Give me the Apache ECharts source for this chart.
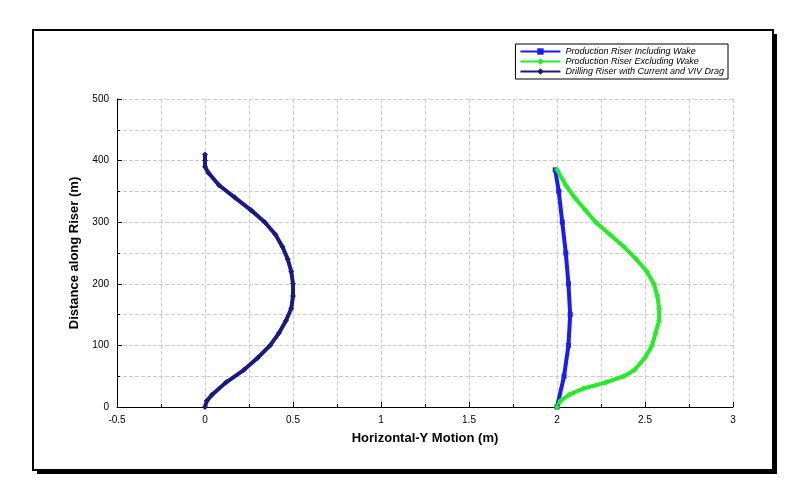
<!DOCTYPE html><html><head><meta charset="utf-8"><script src="https://cdn.jsdelivr.net/npm/echarts@6/dist/echarts.min.js"></script></head>
<body style="margin:0;background:#fff"><div id="c" style="width:788px;height:502px"></div><script>
const drillY=[0,10,20,40,60,80,100,120,140,160,180,200,220,240,260,280,300,320,340,360,380,390,400,410];
const drillX=[0,0.01,0.04,0.12,0.22,0.30,0.37,0.42,0.46,0.49,0.50,0.50,0.49,0.47,0.44,0.40,0.34,0.26,0.17,0.08,0.02,0,0,0];
const inclY=[0,50,100,150,200,250,300,350,385];
const inclX=[2.0,2.04,2.065,2.075,2.065,2.05,2.03,2.01,1.99];
const exclY=[0,10,20,30,40,50,60,80,100,120,140,160,180,200,220,240,260,280,300,320,340,360,385];
const exclX=[2.0,2.02,2.07,2.15,2.28,2.38,2.44,2.50,2.54,2.56,2.58,2.58,2.57,2.55,2.51,2.45,2.38,2.30,2.22,2.16,2.10,2.05,2.0];
const z=(xs,ys)=>xs.map((x,i)=>[x,ys[i]]);
const ch=echarts.init(document.getElementById('c'));
const ax={axisLine:{show:true,onZero:false,lineStyle:{color:'#000'}},axisTick:{inside:true,lineStyle:{color:'#000'}},
 minorTick:{show:true,splitNumber:2,length:3,lineStyle:{color:'#000'}},
 splitLine:{lineStyle:{color:'#ccc',type:'dashed'}},minorSplitLine:{show:true,lineStyle:{color:'#ccc',type:'dashed'}},
 axisLabel:{color:'#000',fontSize:10,fontFamily:'Arial'},nameLocation:'middle',
 nameTextStyle:{fontWeight:'bold',fontSize:13,color:'#000',fontFamily:'Arial'}};
ch.setOption({animation:false,
graphic:[{type:'rect',shape:{x:37,y:34,width:740,height:440},style:{fill:'#000'}},
{type:'rect',shape:{x:33,y:30,width:740,height:440},style:{fill:'#fff',stroke:'#000',lineWidth:2}}],
grid:{left:117,right:55,top:99,bottom:95},
legend:{right:60,top:44,orient:'vertical',itemGap:1,itemWidth:40,itemHeight:8,padding:[3,4],borderColor:'#000',borderWidth:1,backgroundColor:'#fff',
 textStyle:{fontSize:9,fontStyle:'italic',fontFamily:'Arial',color:'#000'}},
xAxis:Object.assign({type:'value',min:-0.5,max:3,interval:0.5,name:'Horizontal-Y Motion (m)',nameGap:25},ax),
yAxis:Object.assign({type:'value',min:0,max:500,interval:100,name:'Distance along Riser (m)',nameGap:22},ax),
series:[
{name:'Production Riser Including Wake',type:'line',data:z(inclX,inclY),color:'#1a1aff',symbol:'rect',symbolSize:5,lineStyle:{width:4}},
{name:'Production Riser Excluding Wake',type:'line',data:z(exclX,exclY),color:'#22ee22',symbol:'diamond',symbolSize:6,lineStyle:{width:4}},
{name:'Drilling Riser with Current and VIV Drag',type:'line',data:z(drillX,drillY),color:'#1a1a80',symbol:'diamond',symbolSize:6,lineStyle:{width:4}}
]});
</script></body></html>
